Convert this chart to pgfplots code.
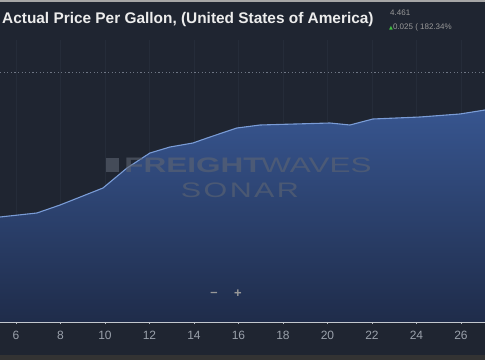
\documentclass[border=0pt]{standalone}
\usepackage{pgfplots}
\pgfplotsset{compat=1.18}
\usepackage{fontspec}
\setmainfont{Liberation Sans}
\newfontfamily\dejavu{DejaVu Sans}
\definecolor{bg}{HTML}{1F2531}
\definecolor{areatop}{HTML}{37558F}
\definecolor{areabot}{HTML}{1F2C4A}
\definecolor{linec}{HTML}{7A9CD6}
\definecolor{tickc}{HTML}{9AA1AB}
\definecolor{gridc}{HTML}{252C39}
\definecolor{dotc}{HTML}{6E7684}
\definecolor{titlec}{HTML}{ECECEC}
\definecolor{wm}{HTML}{5E6572}
\begin{document}
\begin{tikzpicture}
\useasboundingbox (0,0) rectangle (485pt,360pt);
\fill[bg] (0,0) rectangle (485pt,360pt);
\fill[black!60!gray] (0,0) rectangle (485pt,5pt);
\fill[gray!70] (0,358.5pt) rectangle (485pt,360pt);
\begin{axis}[
  at={(0pt,38pt)}, anchor=south west,
  scale only axis, width=485pt, height=282pt,
  xmin=5.281, xmax=27.08, ymin=4.25, ymax=4.532,
  axis line style={draw=none},
  xtick={6,8,...,26},
  ytick={4.5}, yticklabels={},
  ytick style={draw=none},
  xtick style={draw=tickc!70, line width=0.6pt},
  major tick length=4pt, tick align=center, xtick pos=bottom,
  xmajorgrids, ymajorgrids,
  x grid style={gridc, line width=0.6pt},
  y grid style={dotc, line width=1pt, dash pattern=on 1.2pt off 2.4pt},
  ticklabel style={font=\fontsize{12}{14}\selectfont, text=tickc},
  /pgf/number format/assume math mode=true,
  xticklabel style={yshift=-4pt},
]
\addplot[draw=none, top color=areatop, bottom color=areabot] coordinates {
(5.28,4.355) (6.94,4.359) (7.98,4.367) (9.91,4.384) (10.99,4.404)
(12.02,4.419) (12.92,4.425) (13.95,4.429) (14.72,4.435) (15.93,4.444)
(16.97,4.447) (20.11,4.449) (21.01,4.447) (22.04,4.453) (24.16,4.455)
(25.95,4.458) (27.08,4.462)} \closedcycle;
\addplot[linec, line width=1.1pt] coordinates {
(5.28,4.355) (6.94,4.359) (7.98,4.367) (9.91,4.384) (10.99,4.404)
(12.02,4.419) (12.92,4.425) (13.95,4.429) (14.72,4.435) (15.93,4.444)
(16.97,4.447) (20.11,4.449) (21.01,4.447) (22.04,4.453) (24.16,4.455)
(25.95,4.458) (27.08,4.462)};
\draw[tickc!60, line width=0.8pt] (rel axis cs:0,0) -- (rel axis cs:1,0);
\end{axis}
% watermark
\node[text=wm, opacity=0.6, font=\fontsize{21}{24}\selectfont\bfseries, anchor=west, inner sep=0, xscale=1.5] at (124pt,195pt) {FREIGHT};
\node[text=wm, opacity=0.6, font=\fontsize{21}{24}\selectfont, anchor=west, inner sep=0, xscale=1.5] at (261pt,195pt) {WAVES};
\fill[wm, opacity=0.6] (106pt,188pt) rectangle (119pt,202pt);
\node[text=wm, opacity=0.6, font=\fontsize{21}{24}\selectfont\addfontfeature{LetterSpace=8}, inner sep=0, xscale=1.45] at (240pt,170pt) {SONAR};
% zoom buttons
\node[text=gray!80, font=\bfseries\fontsize{13}{14}\selectfont] at (214pt,66pt) {\textendash};
\node[text=gray!80, font=\bfseries\fontsize{13}{14}\selectfont] at (238pt,66pt) {+};
% title
\node[anchor=west, inner sep=0, text=titlec, font=\bfseries\fontsize{15.4}{18}\selectfont] at (2pt,340pt) {Actual Price Per Gallon, (United States of America)};
\node[anchor=west, inner sep=0, text=gray!80, font=\fontsize{8}{9}\selectfont] at (390pt,347pt) {4.461};
\node[anchor=west, inner sep=0, text=gray!80, font=\fontsize{8}{9}\selectfont] at (389pt,333pt) {{\dejavu\color{green!50!gray}\fontsize{5}{6}\selectfont ▲}0.025 ( 182.34\%};
\end{tikzpicture}
\end{document}
